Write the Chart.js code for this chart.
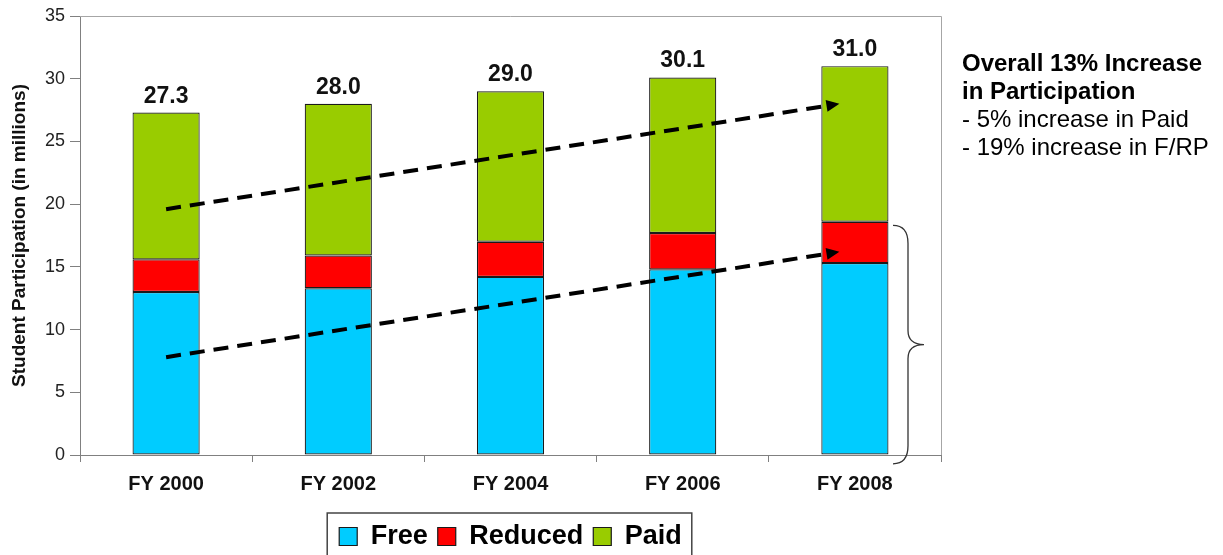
<!DOCTYPE html>
<html>
<head>
<meta charset="utf-8">
<script src="https://cdn.jsdelivr.net/npm/chart.js@4"></script>
<style>
html,body{margin:0;padding:0;background:#fff;}
#wrap{position:relative;width:1223px;height:555px;overflow:hidden;}
</style>
</head>
<body>
<div id="wrap"><canvas id="c"></canvas></div>
<script>
const categories = ['FY 2000', 'FY 2002', 'FY 2004', 'FY 2006', 'FY 2008'];
const freeValues = [13.0, 13.3, 14.2, 14.8, 15.3];
const reducedValues = [2.6, 2.6, 2.8, 2.9, 3.3];
const paidValues = [11.7, 12.1, 12.0, 12.4, 12.4];
const totalLabels = ['27.3', '28.0', '29.0', '30.1', '31.0'];
const yTicks = [0, 5, 10, 15, 20, 25, 30, 35];
const seriesNames = ['Free', 'Reduced', 'Paid'];
const seriesColors = ['#00CCFF', '#FF0000', '#99CC00'];
const yTitle = 'Student Participation (in millions)';
const trendArrows = [
  { from: [0, 19.6], to: [3.91, 28.0] },
  { from: [0, 7.8], to: [3.91, 16.2] }
];
const braceRange = [18.3, -0.7];
const annotationLines = [
  { text: 'Overall 13% Increase', bold: true },
  { text: 'in Participation', bold: true },
  { text: '- 5% increase in Paid', bold: false },
  { text: '- 19% increase in F/RP', bold: false }
];

const FONT = "'Liberation Sans', Arial, Helvetica, sans-serif";

function drawArrow(ctx, x0, y0, x1, y1) {
  const ang = Math.atan2(y1 - y0, x1 - x0);
  const headLen = 13, headW = 6;
  const bx = x1 - headLen * Math.cos(ang), by = y1 - headLen * Math.sin(ang);
  ctx.save();
  ctx.strokeStyle = '#000';
  ctx.fillStyle = '#000';
  ctx.lineWidth = 4;
  ctx.setLineDash([15, 9]);
  ctx.beginPath();
  ctx.moveTo(x0, y0);
  ctx.lineTo(bx, by);
  ctx.stroke();
  ctx.setLineDash([]);
  ctx.beginPath();
  ctx.moveTo(x1, y1);
  ctx.lineTo(bx - headW * Math.sin(ang), by + headW * Math.cos(ang));
  ctx.lineTo(bx + headW * Math.sin(ang), by - headW * Math.cos(ang));
  ctx.closePath();
  ctx.fill();
  ctx.restore();
}

const extrasPlugin = {
  id: 'extras',
  afterDatasetsDraw(chart) {
    const ctx = chart.ctx;
    const xs = chart.scales.x, ys = chart.scales.y;
    const area = chart.chartArea;
    const meta = chart.getDatasetMeta(chart.data.datasets.length - 1);
    ctx.save();
    ctx.font = 'bold 23px ' + FONT;
    ctx.fillStyle = '#111';
    ctx.textAlign = 'center';
    ctx.textBaseline = 'alphabetic';
    meta.data.forEach((el, i) => {
      ctx.fillText(totalLabels[i], el.x, el.y - 10);
    });
    ctx.restore();
    trendArrows.forEach(a => {
      drawArrow(ctx,
        xs.getPixelForValue(a.from[0]), ys.getPixelForValue(a.from[1]),
        xs.getPixelForValue(a.to[0]), ys.getPixelForValue(a.to[1]));
    });
    const yTop = ys.getPixelForValue(braceRange[0]);
    const yBot = ys.getPixelForValue(braceRange[1]);
    const yMid = (yTop + yBot) / 2;
    const xL = area.right - 48, xM = area.right - 33, xT = area.right - 17;
    ctx.save();
    ctx.strokeStyle = '#333';
    ctx.lineWidth = 1.3;
    ctx.beginPath();
    ctx.moveTo(xL, yTop);
    ctx.quadraticCurveTo(xM, yTop, xM, yTop + 18);
    ctx.lineTo(xM, yMid - 14);
    ctx.quadraticCurveTo(xM, yMid, xT, yMid);
    ctx.quadraticCurveTo(xM, yMid, xM, yMid + 14);
    ctx.lineTo(xM, yBot - 18);
    ctx.quadraticCurveTo(xM, yBot, xL, yBot);
    ctx.stroke();
    ctx.restore();
  },
  afterDraw(chart) {
    const ctx = chart.ctx;
    const area = chart.chartArea;
    ctx.save();
    ctx.strokeStyle = '#a6a6a6';
    ctx.lineWidth = 1;
    ctx.beginPath();
    ctx.moveTo(area.left, area.top + 0.5);
    ctx.lineTo(area.right + 0.5, area.top + 0.5);
    ctx.lineTo(area.right + 0.5, area.bottom);
    ctx.stroke();
    ctx.restore();
    const lg = chart.legend;
    if (lg && lg.legendHitBoxes && lg.legendHitBoxes.length) {
      let minL = Infinity, maxR = -Infinity;
      lg.legendHitBoxes.forEach(h => {
        minL = Math.min(minL, h.left);
        maxR = Math.max(maxR, h.left + h.width);
      });
      ctx.save();
      ctx.strokeStyle = '#444';
      ctx.lineWidth = 1.5;
      ctx.strokeRect(minL - 12, lg.top, (maxR - minL) + 22, 80);
      ctx.restore();
    }
    ctx.save();
    ctx.fillStyle = '#000';
    ctx.textAlign = 'left';
    ctx.textBaseline = 'alphabetic';
    const tx = area.right + 21;
    annotationLines.forEach((ln, i) => {
      ctx.font = (ln.bold ? 'bold ' : '') + '24px ' + FONT;
      ctx.fillText(ln.text, tx, 71 + i * 28);
    });
    ctx.restore();
  }
};

const seriesData = [freeValues, reducedValues, paidValues];

new Chart(document.getElementById('c'), {
  type: 'bar',
  data: {
    labels: categories,
    datasets: seriesNames.map((name, i) => ({
      label: name,
      data: seriesData[i],
      backgroundColor: seriesColors[i],
      borderColor: '#1a1a1a',
      borderWidth: 1.2,
      borderSkipped: false,
      categoryPercentage: 1,
      barPercentage: 0.39
    }))
  },
  options: {
    responsive: true,
    maintainAspectRatio: false,
    animation: false,
    devicePixelRatio: 1,
    layout: { padding: { top: 16, right: 282, bottom: -5, left: 0 } },
    plugins: {
      tooltip: { enabled: false },
      legend: {
        position: 'bottom',
        fullSize: false,
        labels: {
          font: { family: FONT, size: 27, weight: 'bold' },
          color: '#000',
          boxWidth: 18,
          boxHeight: 18,
          padding: 10
        }
      }
    },
    scales: {
      x: {
        stacked: true,
        offset: true,
        grid: { display: true, drawOnChartArea: false, drawTicks: true, tickLength: 7, color: '#808080', offset: true },
        border: { display: true, color: '#808080', width: 1 },
        ticks: { font: { family: FONT, size: 20, weight: 'bold' }, color: '#111', padding: 10, maxRotation: 0 },
        afterFit: s => { s.height = 58; }
      },
      y: {
        stacked: true,
        min: 0,
        max: 35,
        afterBuildTicks: s => { s.ticks = yTicks.map(v => ({ value: v })); },
        grid: { display: true, drawOnChartArea: false, drawTicks: true, tickLength: 10, color: '#808080' },
        border: { display: true, color: '#808080', width: 1 },
        ticks: { font: { family: FONT, size: 18 }, color: '#222', padding: 5 },
        title: { display: true, text: yTitle, font: { family: FONT, size: 19, weight: 'bold' }, color: '#111', padding: { top: 8, bottom: 0 } },
        afterFit: s => { s.width = 80; }
      }
    }
  },
  plugins: [extrasPlugin]
});
</script>
</body>
</html>
